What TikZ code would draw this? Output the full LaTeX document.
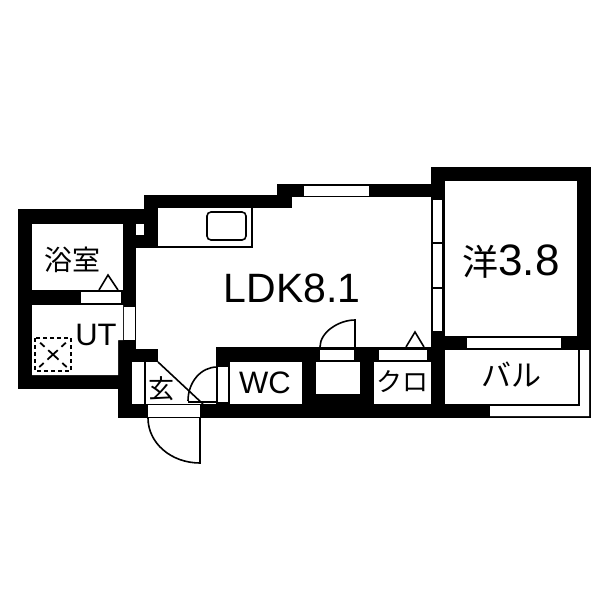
\documentclass[tikz,border=0pt]{standalone}
\usepackage{fontspec}
\setmainfont{Liberation Sans}
\newfontfamily\cjk{Noto Sans CJK JP}
\begin{document}
\begin{tikzpicture}[x=1pt,y=-1pt,line cap=butt]
\tikzstyle{wall}=[fill=black,draw=none]
\tikzstyle{room}=[fill=white,draw=none]
\tikzstyle{frame}=[fill=white,draw=black,line width=1.2pt]
\tikzstyle{thin}=[draw=black,line width=1.6pt]
\tikzstyle{cross}=[line width=1.8pt,dash pattern=on 6pt off 5pt on 14pt off 5pt on 6pt off 14pt,dash phase=43pt]
\tikzstyle{label}=[inner sep=0pt,text=black]
\useasboundingbox (0,0) rectangle (600,600);

        % walls
        \foreach \xa/\ya/\xb/\yb in {431/167/591/350, 578/350/591/418, 277/184/431/197, 144/195/292/208,
                                     17.5/209/136/389, 123/209/158/248, 144/195/158/248, 118/340/136/418,
                                     118/349/158/362, 118/404/591/418, 216/347/445/404}
          \fill[wall] (\xa,\ya) rectangle (\xb,\yb);

        % rooms
        \foreach \xa/\ya/\xb/\yb in {445/181/577/336, 32/224/123/290, 132/362/216/404, 230/362/302/404,
                                     316/362/360/394, 374/362/431/404, 445/350/578/404}
          \fill[room] (\xa,\ya) rectangle (\xb,\yb);
        \fill[room] (32,305) -- (123,305) -- (123,340) -- (118,340) -- (118,375) -- (32,375) -- cycle;
        \fill[room] (580,350) -- (589,350) -- (589,416) -- (490,416) -- (490,406) -- (580,406) -- cycle;

        % windows and openings
        \foreach \xa/\ya/\xb/\yb in {304/186/369/196, 467/338/561/348, 136/224/144/235, 124/307/135/340,
                                     81/292/121/303, 148/405/200/417, 218/367/228/402, 320/350/354/360,
                                     379/350/427/360}
          \fill[room] (\xa,\ya) rectangle (\xb,\yb);
        \foreach \ya/\yb in {199/243, 243/288, 288/332}
          \draw[frame] (432,\ya) rectangle (443,\yb);

        % kitchen
        \draw[thin] (158,247) -- (252,247) -- (252,208);
        \draw[thin,rounded corners=4pt] (207,212) rectangle (246,240);

        % entrance
        \draw[thin] (145,362) -- (145,404);
        \draw[thin] (158,362) -- (203,404);
        \draw[thin] (148,418) .. controls (148,443) and (171,463) .. (200,463) -- (200,418);
        \draw[thin] (188,401) .. controls (188,382) and (201,367) .. (217,367);
        \draw[thin] (188,402) -- (217,402);

        % doors to the north
        \draw[thin] (320,347) .. controls (320,332) and (339,320) .. (355,320) -- (355,348);
        \draw[thin] (406,347) -- (415,332) -- (424,347);
        \draw[thin] (99,290) -- (108,275) -- (118,290);

        % washing machine place
        \draw[line width=1.8pt,dash pattern=on 4pt off 3pt] (35,338) rectangle (71,371);
        \draw[cross] (35,338) -- (71,371);
        \draw[cross] (71,338) -- (35,371);

        \node[label,font=\cjk\fontsize{28}{30}\selectfont] (bath)    at (72,260)  {浴室};
        \node[label,font=\fontsize{31}{33}\selectfont]     (ut)      at (96,335)  {UT};
        \node[label,font=\fontsize{41}{43}\selectfont]     (ldk)     at (292,288) {LDK8.1};
        \node[label,font=\fontsize{44}{46}\selectfont]     (western) at (511,262) {{\cjk\fontsize{36}{46}\selectfont 洋}3.8};
        \node[label,font=\cjk\fontsize{26}{28}\selectfont] (entry)   at (161,389) {玄};
        \node[label,font=\fontsize{31}{33}\selectfont]     (wc)      at (265,383) {WC};
        \node[label,font=\cjk\fontsize{26}{28}\selectfont] (closet)  at (402,382) {クロ};
        \node[label,font=\cjk\fontsize{30}{32}\selectfont] (balcony) at (511,375) {バル};
\end{tikzpicture}
\end{document}
